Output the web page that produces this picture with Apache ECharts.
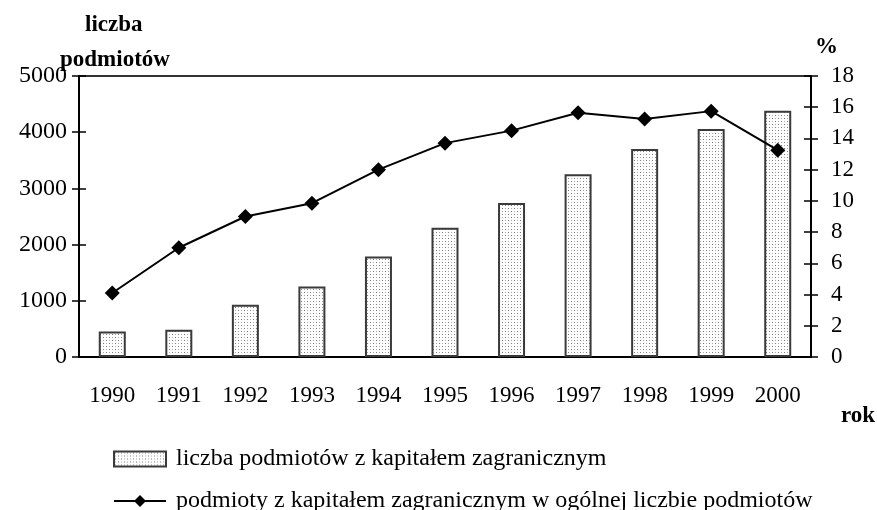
<!DOCTYPE html>
<html>
<head>
<meta charset="utf-8">
<script src="https://cdn.jsdelivr.net/npm/echarts@6/dist/echarts.min.js"></script>
<style>
  html, body { margin: 0; padding: 0; background: #fff; }
  #chart { width: 877px; height: 510px; }
</style>
</head>
<body>
<div id="chart"></div>
<script>
// lata
const years = ['1990', '1991', '1992', '1993', '1994', '1995', '1996', '1997', '1998', '1999', '2000'];
// liczba podmiotów z kapitałem zagranicznym
const firmCounts = [455, 485, 930, 1255, 1790, 2300, 2740, 3250, 3700, 4055, 4380];
// udział w ogólnej liczbie podmiotów (%)
const sharePct = [4.1, 7.0, 9.0, 9.85, 12.0, 13.7, 14.5, 15.65, 15.25, 15.75, 13.25];

const barName = 'liczba podmiotów z kapitałem zagranicznym';
const lineName = 'podmioty z kapitałem zagranicznym w ogólnej liczbie podmiotów';

const FONT = '"Liberation Serif", "Times New Roman", serif';

// kropkowany wzór słupków
const pat = document.createElement('canvas');
pat.width = 6;
pat.height = 6;
const pctx = pat.getContext('2d');
pctx.fillStyle = '#ffffff';
pctx.fillRect(0, 0, 6, 6);
pctx.fillStyle = '#7a7a7a';
pctx.fillRect(1, 1, 1, 1);
pctx.fillRect(4, 4, 1, 1);
pctx.fillStyle = '#a8a8a8';
pctx.fillRect(4, 1, 1, 1);
pctx.fillRect(1, 4, 1, 1);

const chart = echarts.init(document.getElementById('chart'));

const tickLabel = { fontFamily: FONT, fontSize: 23, color: '#000', formatter: (v) => String(v) };
const boldTitle = { fontFamily: FONT, fontSize: 23, fontWeight: 'bold', color: '#000' };
const legendText = { fontFamily: FONT, fontSize: 24, color: '#000', padding: [0, 0, 0, 5] };

const option = {
  animation: false,
  title: [
    { text: 'liczba', left: 85, top: 14, padding: 0, textStyle: boldTitle },
    { text: 'podmiotów', left: 60, top: 49, padding: 0, textStyle: boldTitle },
    { text: '%', left: 815, top: 36, padding: 0, textStyle: boldTitle },
    { text: 'rok', left: 841, top: 405, padding: 0, textStyle: boldTitle }
  ],
  grid: {
    left: 79, right: 66, top: 76, bottom: 153,
    show: true, borderColor: '#333', borderWidth: 2, backgroundColor: 'transparent'
  },
  legend: [
    {
      left: 108, top: 442, padding: 5,
      itemWidth: 52, itemHeight: 15,
      icon: 'rect',
      textStyle: legendText,
      data: [barName]
    },
    {
      left: 108, top: 484, padding: 5,
      itemWidth: 52, itemHeight: 15,
      textStyle: legendText,
      data: [lineName]
    }
  ],
  xAxis: {
    type: 'category',
    data: years,
    boundaryGap: true,
    axisLine: { lineStyle: { color: '#000', width: 2 } },
    axisTick: { length: 8, lineStyle: { color: '#000', width: 1.5 } },
    axisLabel: { fontFamily: FONT, fontSize: 23, color: '#000', margin: 27 },
    splitLine: { show: false }
  },
  yAxis: [
    {
      type: 'value', min: 0, max: 5000, interval: 1000, position: 'left',
      axisLine: { show: true, lineStyle: { color: '#000', width: 2 } },
      axisTick: { show: true, length: 7, lineStyle: { color: '#000', width: 1.5 } },
      axisLabel: Object.assign({}, tickLabel, { margin: 12, fontSize: 24 }),
      splitLine: { show: false }
    },
    {
      type: 'value', min: 0, max: 18, interval: 2, position: 'right',
      axisLine: { show: true, lineStyle: { color: '#000', width: 2 } },
      axisTick: { show: true, length: 7, lineStyle: { color: '#000', width: 1.5 } },
      axisLabel: Object.assign({}, tickLabel, { margin: 20 }),
      splitLine: { show: false }
    },
    // kreski po wewnętrznej stronie osi (przecinające oś)
    {
      type: 'value', min: 0, max: 5000, interval: 1000, position: 'left',
      axisLine: { show: false },
      axisTick: { show: true, inside: true, length: 7, lineStyle: { color: '#000', width: 1.5 } },
      axisLabel: { show: false },
      splitLine: { show: false }
    },
    {
      type: 'value', min: 0, max: 18, interval: 2, position: 'right',
      axisLine: { show: false },
      axisTick: { show: true, inside: true, length: 7, lineStyle: { color: '#000', width: 1.5 } },
      axisLabel: { show: false },
      splitLine: { show: false }
    }
  ],
  series: [
    {
      name: barName,
      type: 'bar',
      yAxisIndex: 0,
      data: firmCounts,
      barWidth: 27,
      itemStyle: {
        color: { image: pat, repeat: 'repeat' },
        borderColor: '#3a3a3a',
        borderWidth: 2
      }
    },
    {
      name: lineName,
      type: 'line',
      yAxisIndex: 1,
      data: sharePct,
      symbol: 'diamond',
      symbolSize: 15,
      z: 5,
      itemStyle: { color: '#000' },
      lineStyle: { color: '#000', width: 2 }
    }
  ]
};

chart.setOption(option);
</script>
</body>
</html>
